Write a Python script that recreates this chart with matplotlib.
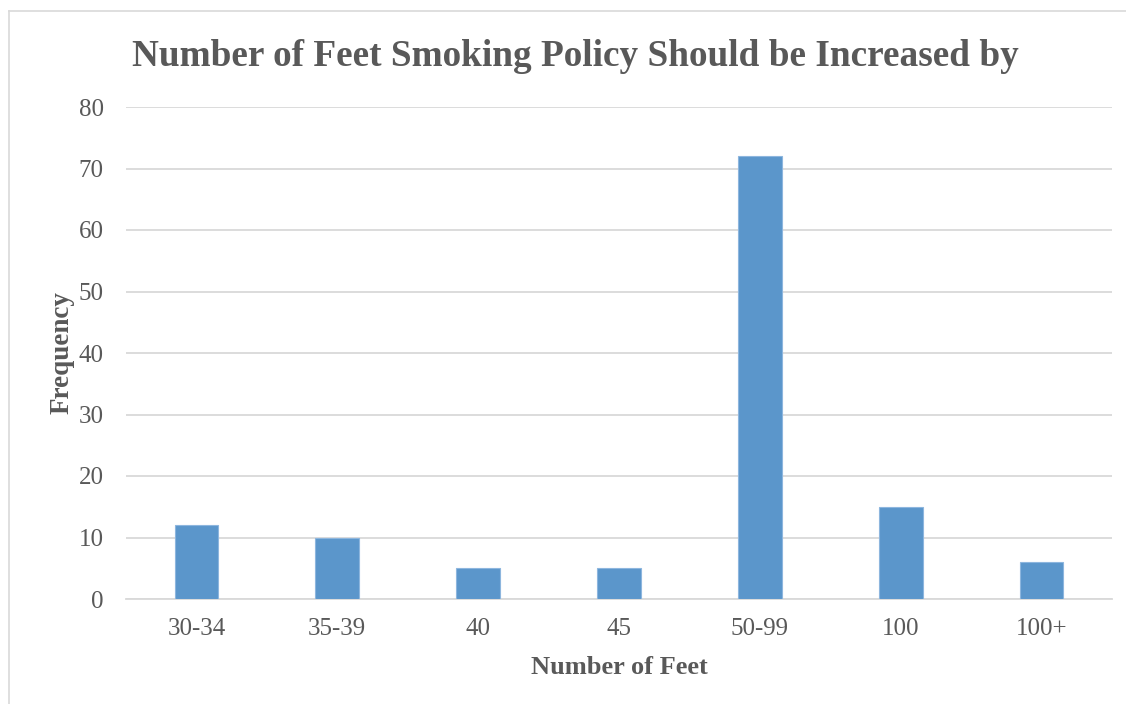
import matplotlib
matplotlib.use('Agg')
import matplotlib.pyplot as plt
from matplotlib.lines import Line2D
import numpy as np

categories = ['30-34', '35-39', '40', '45', '50-99', '100', '100+']
frequency = [12, 10, 5, 5, 72, 15, 6]
y_ticks = [0, 10, 20, 30, 40, 50, 60, 70, 80]

TEXT_COLOR = '#595959'
BAR_COLOR = '#5B96CB'
GRID_COLOR = '#D9D9D9'

plt.rcParams['font.family'] = ['Liberation Serif', 'DejaVu Serif']

fig = plt.figure(figsize=(11.26, 7.04), dpi=100)
ax = fig.add_axes([126 / 1126, 1 - 599 / 704, (1112 - 126) / 1126, (599 - 107) / 704])

x = np.arange(len(categories))
ax.bar(x, frequency, width=0.31, color=BAR_COLOR, edgecolor='#8DB6DE',
       linewidth=0.8, zorder=3)

ax.set_xlim(-0.5, len(categories) - 0.5)
ax.set_ylim(0, 80)
ax.set_yticks(y_ticks)
ax.set_xticks(x)
ax.set_xticklabels(categories)
ax.tick_params(axis='both', length=0, labelsize=18, colors=TEXT_COLOR)
ax.tick_params(axis='y', pad=16)
ax.tick_params(axis='x', pad=14)

ax.grid(axis='y', color=GRID_COLOR, linewidth=1.3, zorder=0)
for side in ['top', 'right', 'left']:
    ax.spines[side].set_visible(False)
ax.spines['bottom'].set_color(GRID_COLOR)
ax.spines['bottom'].set_linewidth(1.3)

ax.set_xlabel('Number of Feet', fontsize=19, fontweight='bold',
              color=TEXT_COLOR, labelpad=11)
ax.set_ylabel('Frequency', fontsize=19.5, fontweight='bold',
              color=TEXT_COLOR, labelpad=3)

fig.text(575 / 1126, 1 - 57 / 704, 'Number of Feet Smoking Policy Should be Increased by',
         ha='center', va='center', fontsize=26.8, fontweight='bold', color=TEXT_COLOR)

# chart frame edges (top and left)
fig.add_artist(Line2D([9 / 1126, 1], [1 - 11 / 704, 1 - 11 / 704],
                      transform=fig.transFigure, color=GRID_COLOR, linewidth=1.2))
fig.add_artist(Line2D([9 / 1126, 9 / 1126], [0, 1 - 11 / 704],
                      transform=fig.transFigure, color=GRID_COLOR, linewidth=1.2))

fig.savefig('out.png', dpi=100)
